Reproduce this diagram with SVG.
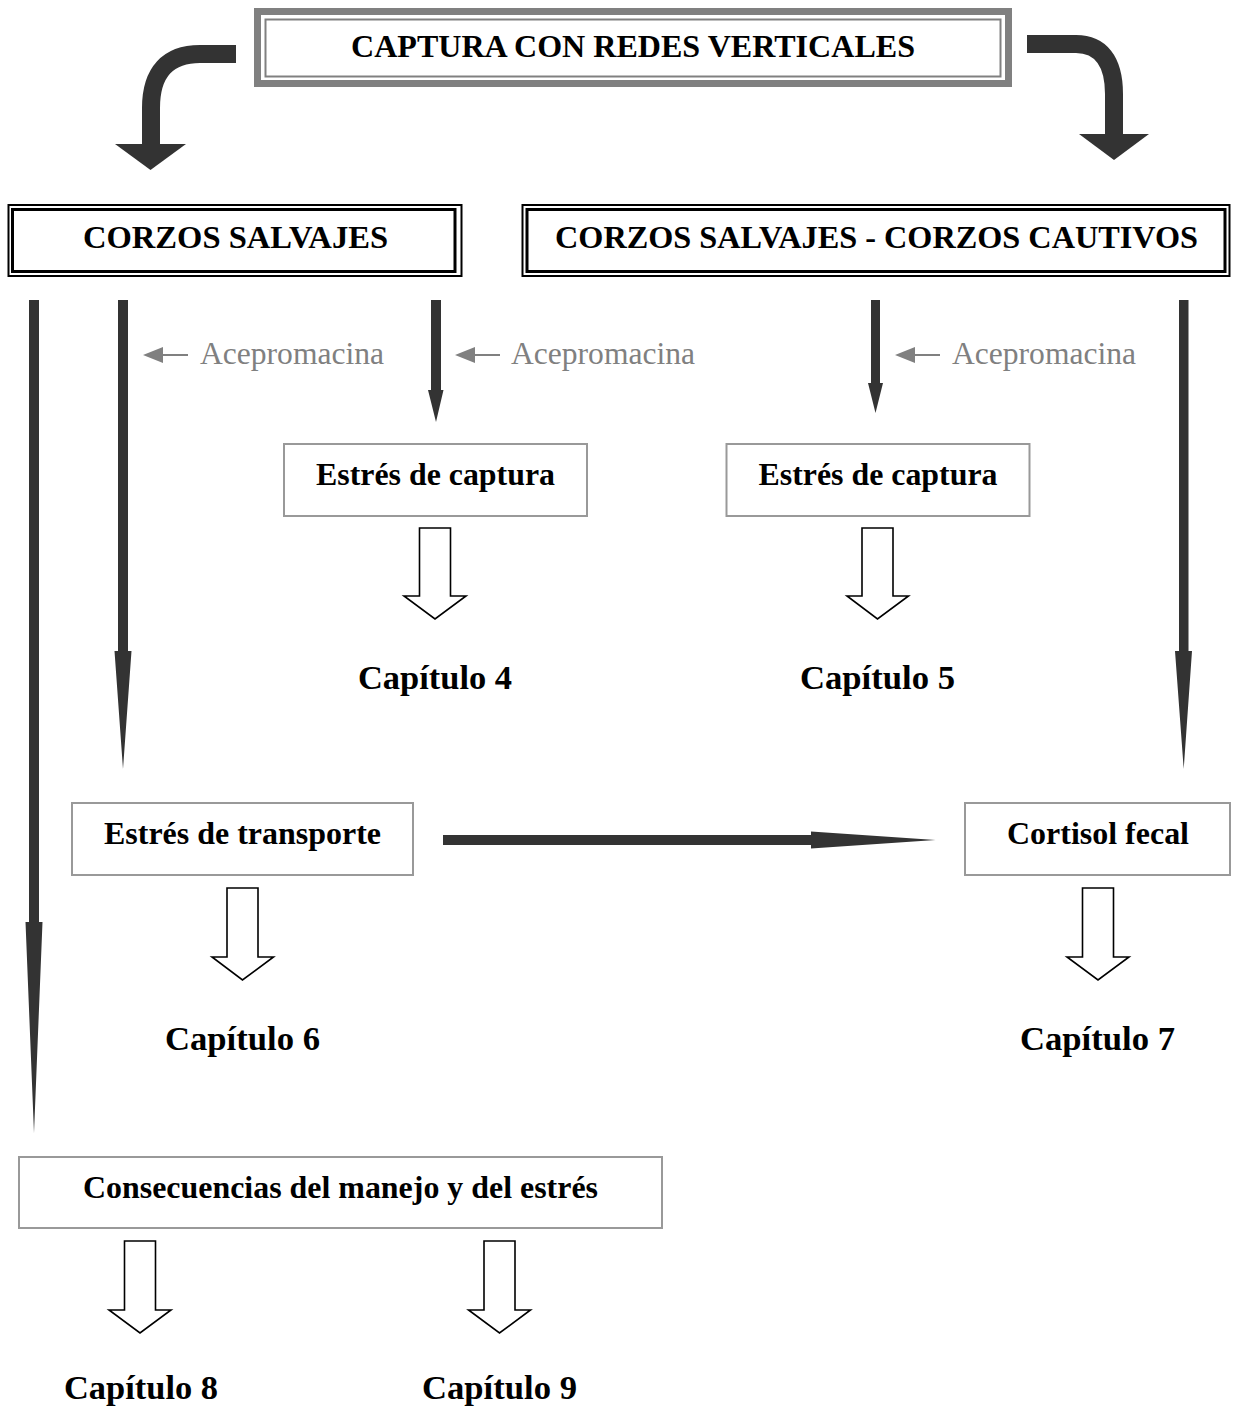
<svg xmlns="http://www.w3.org/2000/svg" width="1234" height="1406" viewBox="0 0 1234 1406">
<style>
.t{font-family:"Liberation Serif","Times New Roman",serif;font-weight:bold;font-size:31px;fill:#000;text-anchor:middle}
.c{font-family:"Liberation Serif","Times New Roman",serif;font-weight:bold;font-size:33px;fill:#000;text-anchor:middle}
.a{font-family:"Liberation Serif","Times New Roman",serif;font-size:31px;fill:#808080}
.gb{fill:#fff;stroke:#999;stroke-width:2}
.ho{fill:#fff;stroke:#000;stroke-width:1.6;stroke-linejoin:miter}
.dk{fill:#333}
</style>
<rect width="1234" height="1406" fill="#fff"/>
<g id="title">
<rect x="257.5" y="11.5" width="751" height="72" fill="#fff" stroke="#808080" stroke-width="7"/>
<rect x="265.5" y="19.5" width="735" height="57" fill="none" stroke="#808080" stroke-width="2"/>
<text class="t" x="633" y="57" textLength="564" lengthAdjust="spacingAndGlyphs">CAPTURA CON REDES VERTICALES</text>
</g>
<g id="salvajes">
<rect x="8.5" y="205" width="453" height="71" fill="#fff" stroke="#000" stroke-width="2"/>
<rect x="12.5" y="209.5" width="442.5" height="62" fill="none" stroke="#000" stroke-width="3"/>
<text class="t" x="235.5" y="248" textLength="305" lengthAdjust="spacingAndGlyphs">CORZOS SALVAJES</text>
</g>
<g id="salvajes-cautivos">
<rect x="522.5" y="205" width="707" height="71" fill="#fff" stroke="#000" stroke-width="2"/>
<rect x="527" y="209.5" width="698" height="62" fill="none" stroke="#000" stroke-width="3"/>
<text class="t" x="876.5" y="248" textLength="643" lengthAdjust="spacingAndGlyphs">CORZOS SALVAJES - CORZOS CAUTIVOS</text>
</g>
<g id="estres-captura-1">
<rect class="gb" x="284" y="444" width="303" height="72"/>
<text class="t" x="435.5" y="485" textLength="239" lengthAdjust="spacingAndGlyphs">Estrés de captura</text>
</g>
<g id="estres-captura-2">
<rect class="gb" x="726.5" y="444" width="303" height="72"/>
<text class="t" x="878" y="485" textLength="239" lengthAdjust="spacingAndGlyphs">Estrés de captura</text>
</g>
<g id="estres-transporte">
<rect class="gb" x="72" y="803" width="341" height="72"/>
<text class="t" x="242.5" y="844" textLength="277" lengthAdjust="spacingAndGlyphs">Estrés de transporte</text>
</g>
<g id="cortisol-fecal">
<rect class="gb" x="965" y="803" width="265" height="72"/>
<text class="t" x="1098" y="844" textLength="182" lengthAdjust="spacingAndGlyphs">Cortisol fecal</text>
</g>
<g id="consecuencias">
<rect class="gb" x="19" y="1157" width="643" height="71"/>
<text class="t" x="340.5" y="1198" textLength="515" lengthAdjust="spacingAndGlyphs">Consecuencias del manejo y del estrés</text>
</g>
<g id="cap4"><text class="c" x="435" y="689" textLength="154" lengthAdjust="spacingAndGlyphs">Capítulo 4</text></g>
<g id="cap5"><text class="c" x="877.5" y="689" textLength="155" lengthAdjust="spacingAndGlyphs">Capítulo 5</text></g>
<g id="cap6"><text class="c" x="242.5" y="1050" textLength="155" lengthAdjust="spacingAndGlyphs">Capítulo 6</text></g>
<g id="cap7"><text class="c" x="1097.5" y="1050" textLength="155" lengthAdjust="spacingAndGlyphs">Capítulo 7</text></g>
<g id="cap8"><text class="c" x="141" y="1399" textLength="154" lengthAdjust="spacingAndGlyphs">Capítulo 8</text></g>
<g id="cap9"><text class="c" x="499.5" y="1399" textLength="155" lengthAdjust="spacingAndGlyphs">Capítulo 9</text></g>
<g id="acepromacina">
<g fill="#808080" stroke="#808080">
<line x1="158" y1="355" x2="188" y2="355" stroke-width="2"/>
<polygon points="143,355 163,347 163,363" stroke="none"/>
<line x1="470" y1="355" x2="500" y2="355" stroke-width="2"/>
<polygon points="455,355 475,347 475,363" stroke="none"/>
<line x1="910" y1="355" x2="940" y2="355" stroke-width="2"/>
<polygon points="895,355 915,347 915,363" stroke="none"/>
</g>
<text class="a" x="200" y="364" textLength="184" lengthAdjust="spacingAndGlyphs">Acepromacina</text>
<text class="a" x="511" y="364" textLength="184" lengthAdjust="spacingAndGlyphs">Acepromacina</text>
<text class="a" x="952" y="364" textLength="184" lengthAdjust="spacingAndGlyphs">Acepromacina</text>
</g>
<g id="connectors">
<path d="M236 54 L200 54 C168 54 151 72 151 108 L151 145" fill="none" stroke="#333" stroke-width="18"/>
<polygon class="dk" points="115,144 186,144 150.5,170"/>
<path d="M1027 44 L1076 44 C1100 44 1114 60 1114 94 L1114 135" fill="none" stroke="#333" stroke-width="18"/>
<polygon class="dk" points="1079,134 1149,134 1114,160"/>
<polygon class="dk" points="29,300 39,300 39,922 42.5,922 34,1133 25.5,922 29,922"/>
<polygon class="dk" points="118,300 128,300 128,651 131.5,651 123,769 114.5,651 118,651"/>
<polygon class="dk" points="431,300 441,300 441,390 443.5,390 436,422 428,390 431,390"/>
<polygon class="dk" points="871,300 880,300 880,383 883,383 875.5,413 868,383 871,383"/>
<polygon class="dk" points="1179,300 1188.5,300 1188.5,651 1192,651 1183.7,769 1175,651 1179,651"/>
<polygon class="dk" points="443,835 811,835 811,831.5 935.5,840 811,848.5 811,845 443,845"/>
<polygon class="ho" points="419.5,528 450.5,528 450.5,596 466,596 435,619 404,596 419.5,596"/>
<polygon class="ho" points="862,528 893,528 893,596 908.5,596 877.5,619 847,596 862,596"/>
<polygon class="ho" points="227,888 258,888 258,957 273.5,957 242.5,980 212,957 227,957"/>
<polygon class="ho" points="1082.5,888 1113.5,888 1113.5,957 1129,957 1098,980 1067,957 1082.5,957"/>
<polygon class="ho" points="124.5,1241 155.5,1241 155.5,1310 171,1310 140,1333 109,1310 124.5,1310"/>
<polygon class="ho" points="484,1241 515,1241 515,1310 530.5,1310 499.5,1333 468.5,1310 484,1310"/>
</g>
</svg>
